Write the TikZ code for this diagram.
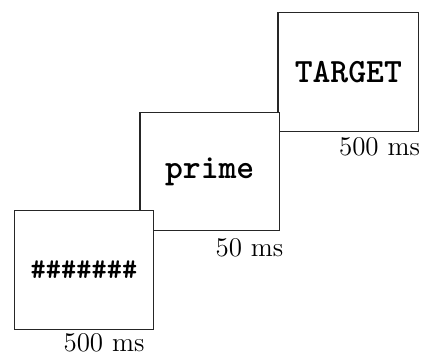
\documentclass[tikz,border=0pt]{standalone}
\begin{document}
\begin{tikzpicture}[x=0.5pt,y=-0.5pt,
  screen/.style={draw=black!85,line width=0.55pt,fill=white},
  word/.style={font=\ttfamily\bfseries\fontsize{17}{20}\selectfont},
  hashes/.style={font=\ttfamily\bfseries\fontsize{14.5}{17}\selectfont},
  dur/.style={font=\fontsize{13.5}{16}\selectfont,anchor=base,inner sep=0pt}]
\useasboundingbox (0,0) rectangle (421,355);
% target screen
\draw[screen] (278,12.3) rectangle (418.7,131.7);
\node[word] (target) at (348.3,72) {TARGET};
\node[dur] (t3) at (379.5,155) {500 ms};
% prime screen
\draw[screen] (140,112.3) rectangle (279.3,230.7);
\node[word] (prime) at (209.7,171.5) {prime};
\node[dur] (t2) at (249.5,256) {50 ms};
% mask screen
\draw[screen] (14.3,210.7) rectangle (153.7,329.3);
\node[hashes] (mask) at (84,270) {\#\#\#\#\#\#\#};
\node[dur] (t1) at (104,351.5) {500 ms};
\end{tikzpicture}
\end{document}
